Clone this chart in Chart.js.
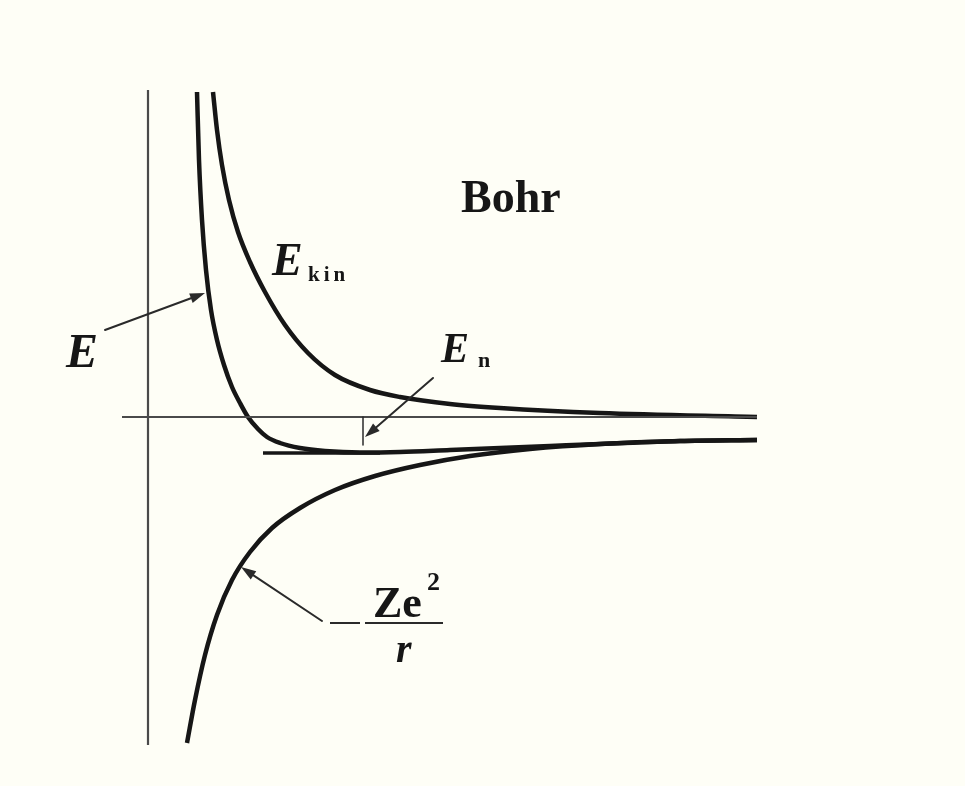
<!DOCTYPE html>
<html>
<head>
<meta charset="utf-8">
<title>Bohr</title>
<script src="https://cdn.jsdelivr.net/npm/chart.js@4/dist/chart.umd.min.js"></script>
<style>
  html, body { margin: 0; padding: 0; background: #fefef6; }
  #wrap { width: 965px; height: 786px; }
</style>
</head>
<body>
<div id="wrap"><canvas id="c" width="965" height="786"></canvas></div>
<script>
// Radius r (arbitrary units) and energy values of the three curves.
const kinR = [6.5, 6.9, 7.4, 8.1, 9.0, 10.2, 11.7, 13.7, 16.0, 18.7, 22.2, 25.2, 30.2, 35.2, 45.2, 60.9];
const kinE = [32.5, 28.7, 25.2, 21.7, 18.5, 15.5, 12.5, 9.2, 6.4, 4.2, 2.7, 2.0, 1.3, 0.9, 0.4, 0.0];

const totR = [4.9, 5.1, 5.4, 5.8, 6.3, 6.9, 7.6, 8.4, 9.2, 10.0, 11.0, 11.9, 13.2, 15.2, 17.7, 21.2, 25.2, 30.2, 35.2, 40.2, 45.2, 53.2, 60.9];
const totE = [32.5, 25.7, 19.7, 14.7, 10.7, 7.7, 5.2, 3.0, 1.4, 0.0, -1.2, -2.0, -2.6, -3.1, -3.4, -3.55, -3.5, -3.3, -3.1, -2.9, -2.7, -2.4, -2.3];

const potR = [3.9, 4.7, 5.7, 6.9, 8.4, 10.2, 12.4, 15.2, 18.7, 22.7, 27.2, 32.2, 38.2, 45.2, 53.2, 60.9];
const potE = [-32.6, -28.3, -23.8, -19.8, -16.3, -13.5, -11.1, -9.1, -7.3, -5.9, -4.8, -3.9, -3.2, -2.7, -2.4, -2.3];

// Ground-state level E_n and its extent in r
const levelE = -3.6;
const levelR = [11.5, 23.2];

// Axis extents
const rAxisRange = [-2.6, 60.9];
const eAxisRange = [-32.8, 32.7];

const pts = (xs, ys) => xs.map((x, i) => ({ x: x, y: ys[i] }));

const INK = '#161616';
const AXIS = '#4a4a4a';
const SERIF = '"Liberation Serif", "DejaVu Serif", serif';

// Arrows, placed in data coordinates
const arrows = [
  { from: [-4.3, 8.7], to: [5.7, 12.4] },
  { from: [28.5, 3.9], to: [21.7, -2.0] },
  { from: [17.4, -20.4], to: [9.3, -15.0] }
];

const notePlugin = {
  id: 'notes',
  afterDatasetsDraw(chart) {
    const ctx = chart.ctx;
    const xs = chart.scales.x, ys = chart.scales.y;
    const px = v => xs.getPixelForValue(v);
    const py = v => ys.getPixelForValue(v);
    ctx.save();
    ctx.strokeStyle = '#2a2a2a';
    ctx.fillStyle = '#2a2a2a';
    ctx.lineWidth = 2;
    ctx.lineCap = 'round';
    arrows.forEach(a => {
      const x0 = px(a.from[0]), y0 = py(a.from[1]);
      const x1 = px(a.to[0]), y1 = py(a.to[1]);
      const ang = Math.atan2(y1 - y0, x1 - x0);
      const hl = 15, hw = 5;
      const bx = x1 - hl * Math.cos(ang), by = y1 - hl * Math.sin(ang);
      ctx.beginPath();
      ctx.moveTo(x0, y0);
      ctx.lineTo(bx, by);
      ctx.stroke();
      ctx.beginPath();
      ctx.moveTo(x1, y1);
      ctx.lineTo(bx + hw * Math.sin(ang), by - hw * Math.cos(ang));
      ctx.lineTo(bx - hw * Math.sin(ang), by + hw * Math.cos(ang));
      ctx.closePath();
      ctx.fill();
    });
    // short drop line under the E_n arrow
    ctx.lineWidth = 1.5;
    ctx.beginPath();
    ctx.moveTo(px(21.5), py(0));
    ctx.lineTo(px(21.5), py(-2.8));
    ctx.stroke();

    ctx.fillStyle = INK;
    ctx.textBaseline = 'alphabetic';
    ctx.textAlign = 'left';
    // Title
    ctx.font = 'bold 46px ' + SERIF;
    ctx.fillText('Bohr', px(31.3), py(20.5));
    // E
    ctx.font = 'italic bold 48px ' + SERIF;
    ctx.fillText('E', px(-8.2), py(5.0));
    // E_kin
    ctx.font = 'italic bold 46px ' + SERIF;
    ctx.fillText('E', px(12.4), py(14.2));
    ctx.font = 'bold 21px ' + SERIF;
    ctx.letterSpacing = '4px';
    ctx.fillText('kin', px(16.0), py(13.6));
    ctx.letterSpacing = '0px';
    // E_n
    ctx.font = 'italic bold 42px ' + SERIF;
    ctx.fillText('E', px(29.3), py(5.5));
    ctx.font = 'bold 22px ' + SERIF;
    ctx.fillText('n', px(33.0), py(5.0));
    // -Ze^2 / r
    ctx.strokeStyle = '#2a2a2a';
    ctx.lineWidth = 2;
    ctx.lineCap = 'butt';
    ctx.beginPath();
    ctx.moveTo(px(18.2), py(-20.6));
    ctx.lineTo(px(21.2), py(-20.6));
    ctx.moveTo(px(21.7), py(-20.6));
    ctx.lineTo(px(29.5), py(-20.6));
    ctx.stroke();
    ctx.font = 'bold 44px ' + SERIF;
    ctx.fillText('Ze', px(22.5), py(-20.0));
    ctx.font = 'bold 26px ' + SERIF;
    ctx.fillText('2', px(27.9), py(-17.3));
    ctx.font = 'italic bold 40px ' + SERIF;
    ctx.fillText('r', px(24.8), py(-24.5));
    ctx.restore();
  }
};

const lineDs = (data, width, color) => ({
  data: data,
  borderColor: color,
  borderWidth: width,
  pointRadius: 0,
  fill: false,
  cubicInterpolationMode: 'monotone',
  borderCapStyle: 'butt'
});

new Chart(document.getElementById('c'), {
  type: 'line',
  data: {
    datasets: [
      lineDs([{ x: 0, y: eAxisRange[0] }, { x: 0, y: eAxisRange[1] }], 2.2, AXIS),
      lineDs([{ x: rAxisRange[0], y: 0 }, { x: rAxisRange[1], y: 0 }], 2, AXIS),
      lineDs([{ x: levelR[0], y: levelE }, { x: levelR[1], y: levelE }], 3.5, INK),
      lineDs(pts(kinR, kinE), 4.5, INK),
      lineDs(pts(totR, totE), 4.5, INK),
      lineDs(pts(potR, potE), 4.5, INK)
    ]
  },
  options: {
    responsive: false,
    animation: false,
    layout: { padding: 0 },
    plugins: { legend: { display: false }, tooltip: { enabled: false } },
    scales: {
      x: { type: 'linear', min: -14.8, max: 81.7, display: false },
      y: { type: 'linear', min: -36.9, max: 41.7, display: false }
    }
  },
  plugins: [notePlugin]
});
</script>
</body>
</html>
